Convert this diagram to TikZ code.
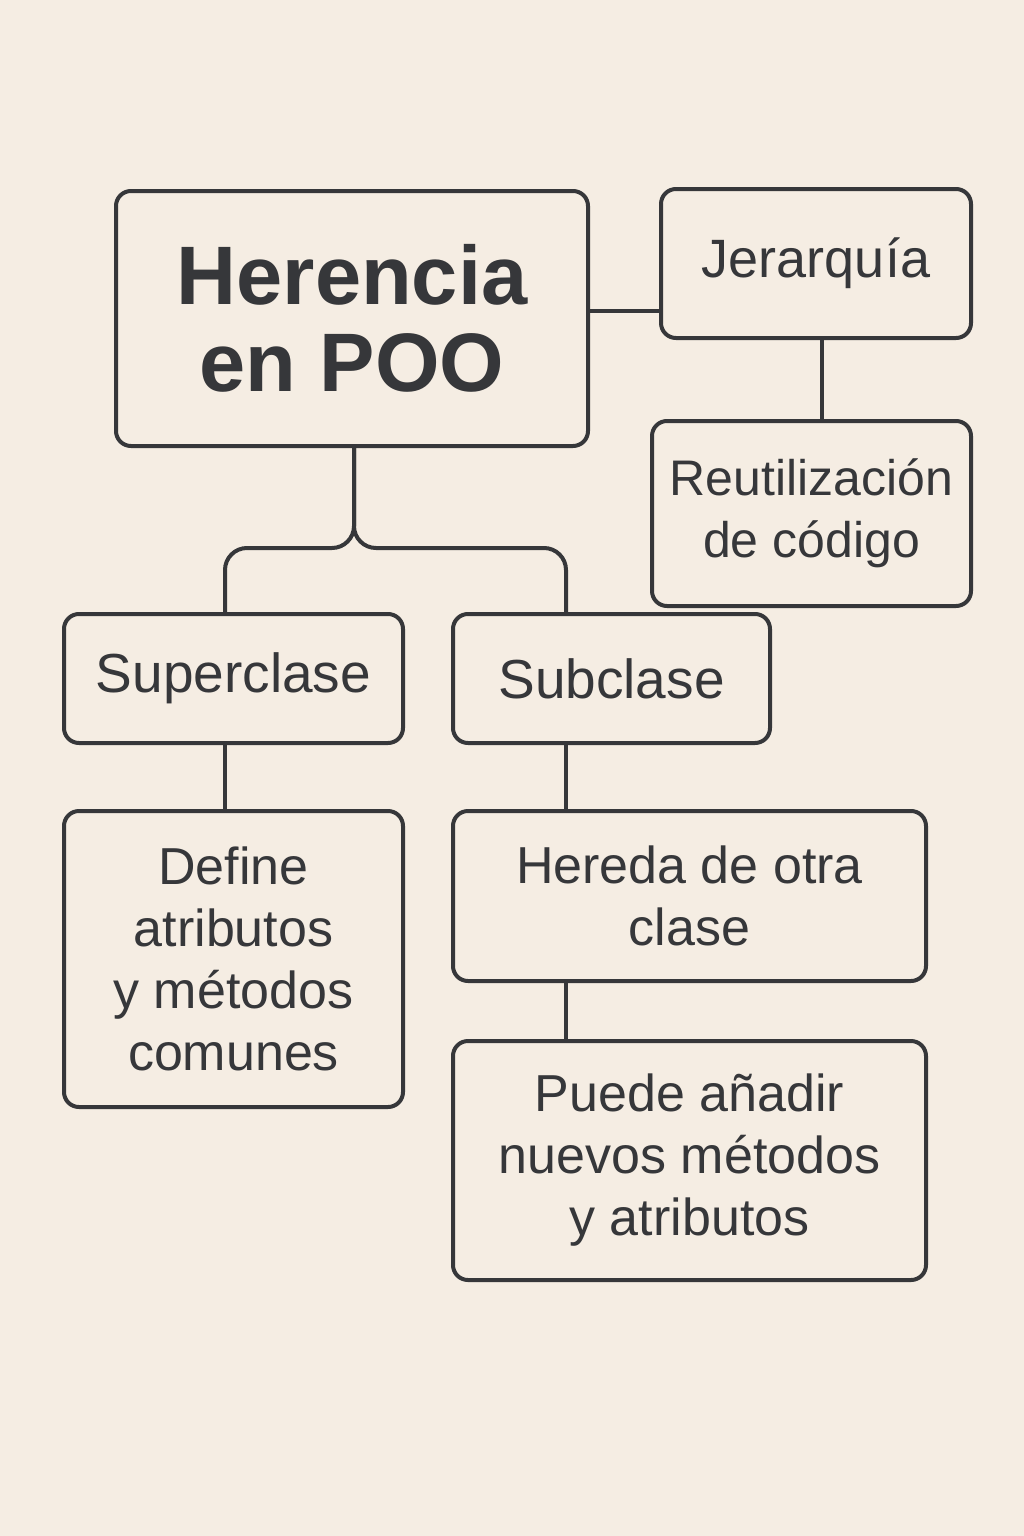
\documentclass[tikz,border=0pt]{standalone}
\usepackage{fontspec}
\setmainfont{Liberation Sans}
\definecolor{bg}{HTML}{F5EDE3}
\definecolor{ink}{HTML}{36373A}
\begin{document}
\begin{tikzpicture}[x=1pt,y=-1pt,
  box/.style={draw=ink,line width=4pt,rounded corners=15pt,text=ink,align=center,inner sep=0pt,font=\fontsize{52}{62}\selectfont},
  link/.style={draw=ink,line width=4pt,rounded corners=22pt}]
\fill[bg] (0,0) rectangle (1024,1536);
\useasboundingbox (0,0) rectangle (1024,1536);
\node[box,minimum width=472,minimum height=255,font=\fontsize{83}{87}\selectfont\bfseries] (main) at (352,318.5) {Herencia\\en POO};
\node[box,minimum width=310,minimum height=149,font=\fontsize{54}{62}\selectfont] (jer) at (816,263.5) {Jerarquía};
\node[box,minimum width=319,minimum height=185,font=\fontsize{50}{62}\selectfont] (reu) at (811.5,513.5) {Reutilización\\de código};
\node[box,minimum width=339,minimum height=129,font=\fontsize{55}{62}\selectfont] (sup) at (233.5,678.5) {Superclase};
\node[box,minimum width=317,minimum height=129,font=\fontsize{55}{62}\selectfont] (sub) at (611.5,678.5) {Subclase};
\node[box,minimum width=339,minimum height=296] (def) at (233.5,959) {Define\\atributos\\y métodos\\comunes};
\node[box,minimum width=473,minimum height=170] (her) at (689.5,896) {Hereda de otra\\clase};
\node[box,minimum width=473,minimum height=239] (pue) at (689.5,1160.5) {Puede añadir\\nuevos métodos\\y atributos};
\coordinate (jl) at (225,548);
\coordinate (jc) at (354,548);
\coordinate (jr) at (566,548);
\coordinate (hy) at (0,311);
\coordinate (vx) at (822,0);
\draw[link] (main.east |- hy) -- (jer.west |- hy);
\draw[link] (jer.south -| vx) -- (reu.north -| vx);
\draw[link] (main.south -| jc) -- (jc) -- (jl) -- (sup.north -| jl);
\draw[link] (main.south -| jc) -- (jc) -- (jr) -- (sub.north -| jr);
\draw[link] (sup.south -| jl) -- (def.north -| jl);
\draw[link] (sub.south -| jr) -- (her.north -| jr);
\draw[link] (her.south -| jr) -- (pue.north -| jr);
\end{tikzpicture}
\end{document}
